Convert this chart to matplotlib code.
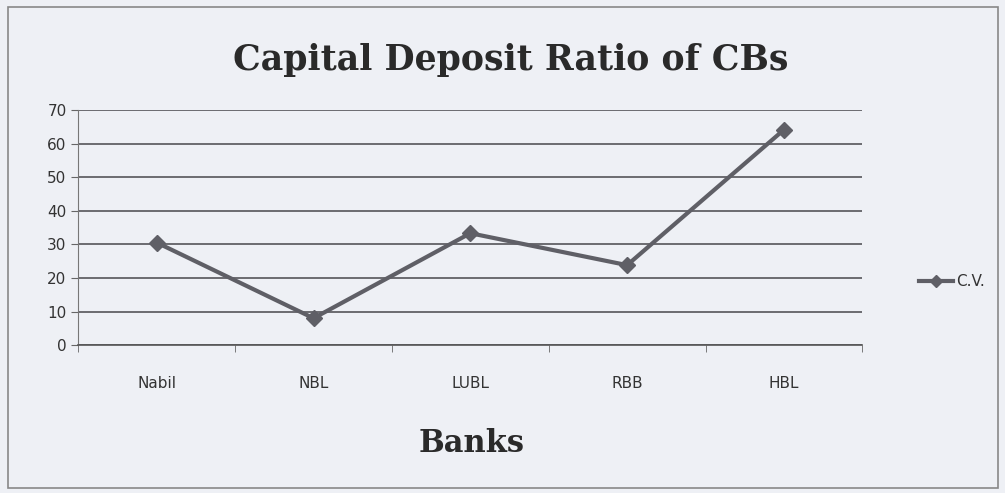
import matplotlib
matplotlib.use('Agg')
from matplotlib import pyplot as plt

banks = ['Nabil', 'NBL', 'LUBL', 'RBB', 'HBL']
cv_values = [30.5, 8, 33.3, 23.8, 64.1]
y_ticks = [0, 10, 20, 30, 40, 50, 60, 70]

bg = '#eef0f5'
fig = plt.figure(figsize=(10.05, 4.93), dpi=100, facecolor=bg)
ax = fig.add_axes([0.078, 0.30, 0.780, 0.477])
ax.set_facecolor(bg)

x = range(len(banks))
ax.plot(x, cv_values, color='#5f5f66', linewidth=3, marker='D', markersize=8,
        label='C.V.')

ax.set_xlim(-0.5, len(banks) - 0.5)
ax.set_ylim(0, 70)
ax.set_yticks(y_ticks)
ax.yaxis.grid(True, color='#55555a', linewidth=1.2)
ax.set_axisbelow(True)
ax.set_xticks(list(x))
ax.set_xticklabels(banks)
ax.set_xticks([i + 0.5 for i in range(-1, len(banks))], minor=True)
ax.tick_params(axis='x', which='major', length=0, pad=22, labelsize=11, colors='#333333')
ax.tick_params(axis='x', which='minor', length=5, color='#666666')
ax.tick_params(axis='y', length=5, labelsize=11, colors='#333333', color='#666666')

for side in ['top', 'right']:
    ax.spines[side].set_visible(False)
ax.spines['left'].set_color('#777777')
ax.spines['bottom'].set_color('#555555')
ax.spines['bottom'].set_linewidth(1.2)

fig.text(0.508, 0.878, 'Capital Deposit Ratio of CBs', ha='center', va='center',
         fontsize=25, fontweight='bold', family='DejaVu Serif', color='#2a2a2a')
fig.text(0.469, 0.10, 'Banks', ha='center', va='center',
         fontsize=22, fontweight='bold', family='DejaVu Serif', color='#2a2a2a')

ax.legend(loc='center left', bbox_to_anchor=(1.065, 0.27), frameon=False,
          borderaxespad=0, fontsize=11, handlelength=2.2, handletextpad=0.2,
          labelcolor='#333333', markerscale=0.75)

border = plt.Rectangle((0.008, 0.01), 0.985, 0.975, transform=fig.transFigure,
                       fill=False, edgecolor='#888888', linewidth=1.2)
fig.patches.append(border)

plt.savefig('out.png', dpi=100, facecolor=bg)
